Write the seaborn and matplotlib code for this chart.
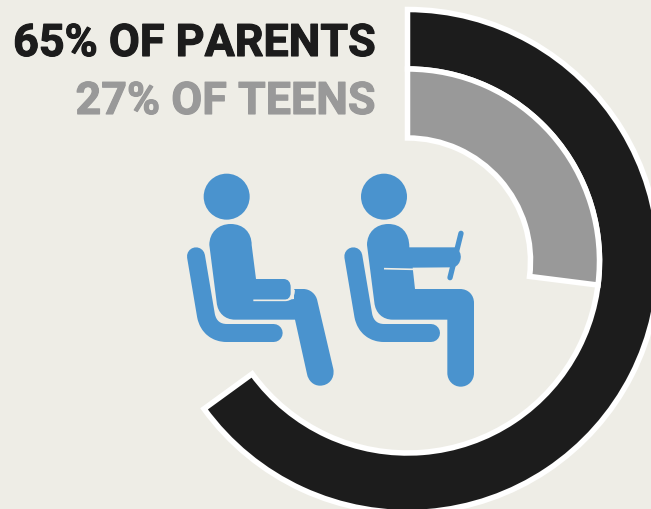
import matplotlib
matplotlib.use("Agg")
import matplotlib.pyplot as plt
import seaborn as sns
import matplotlib.patheffects as pe
from matplotlib.patches import Circle, PathPatch
from matplotlib.path import Path

# chart values
groups = ["PARENTS", "TEENS"]
shares = [65, 27]
group_colors = ["#1c1c1c", "#999999"]
ring_outer = [251.5, 192]
ring_width = [59.5, 69]

BG = "#eeede6"
BLUE = "#4a93ce"
PX = 0.72  # one pixel in points at dpi 100

sns.set_theme(style="white", rc={"figure.facecolor": BG, "axes.facecolor": BG})
plt.rcParams["font.family"] = ["Roboto", "Liberation Sans", "DejaVu Sans"]

fig = plt.figure(figsize=(6.51, 5.10), dpi=100)
ax = fig.add_axes([0, 0, 1, 1])


def to_px(x, y):
    # icon outlines were traced on a 3x crop starting at (170, 160)
    return (x / 3 + 170, 510 - (y / 3 + 160))


def build(parts):
    verts = []
    codes = []
    for part in parts:
        if len(part) == 2:
            verts.append(to_px(*part))
            codes.append(Path.MOVETO if not verts[:-1] else Path.LINETO)
        else:
            for i in range(0, 6, 2):
                verts.append(to_px(part[i], part[i + 1]))
                codes.append(Path.CURVE4)
    return verts, codes


def shape(parts):
    verts, codes = build(parts)
    verts.append(verts[0])
    codes.append(Path.CLOSEPOLY)
    return Path(verts, codes)


def stroke(parts, color, width, cap="round"):
    verts, codes = build(parts)
    ax.add_patch(PathPatch(Path(verts, codes), fill=False, edgecolor=color,
                           lw=width / 3 * PX, capstyle=cap, joinstyle="round"))


# rings
for share, color, radius, width in zip(shares, group_colors, ring_outer, ring_width):
    ax.pie([share / 100], colors=[color], normalize=False, startangle=90,
           counterclock=False, center=(407.5, 510 - 262), radius=radius,
           wedgeprops={"width": width, "edgecolor": "white", "linewidth": 5.5 * PX,
                       "joinstyle": "miter"})

ax.set_xlim(0, 651)
ax.set_ylim(0, 510)
ax.set_aspect("auto")
ax.set_axis_off()

# headline text
for label, share, color, base in zip(groups, shares, group_colors, [57, 115]):
    ax.text(375.5, 510 - base, f"{share}% OF {label}", color=color, fontsize=32.3,
            fontweight="bold", ha="right", va="baseline",
            path_effects=[pe.withStroke(linewidth=0.8, foreground=color)])

# sitting passenger
for dx in [0, 472]:
    ax.add_patch(Circle(to_px(170 + dx, 113), 23, color=BLUE, lw=0))
    stroke([(78 + dx, 292), (108 + dx, 470),
            (115 + dx, 505, 140 + dx, 522, 170 + dx, 522),
            (311 + dx, 522)], BLUE, 54)

ax.add_patch(PathPatch(shape([
    (118, 258),
    (118, 220, 145, 195, 182, 195),
    (220, 195, 245, 220, 245, 258),
    (258, 360), (340, 360),
    (355, 360, 362, 370, 362, 385),
    (362, 402),
    (362, 415, 352, 424, 340, 424),
    (372, 420), (372, 390), (400, 390),
    (420, 390, 438, 405, 442, 425),
    (490, 630),
    (495, 660, 475, 680, 450, 680),
    (430, 680, 415, 665, 411, 645),
    (375, 482), (195, 482),
    (165, 482, 143, 462, 140, 430),
]), color=BLUE, lw=0))
stroke([(250, 424), (345, 424), (362, 424, 373, 412, 372, 392)], BG, 5, cap="butt")

# driver
ax.add_patch(PathPatch(shape([
    (591, 258),
    (591, 220, 618, 195, 655, 195),
    (693, 195, 718, 220, 718, 265),
    (855, 265),
    (868, 272, 874, 285, 872, 298),
    (870, 312, 862, 322, 850, 325),
    (728, 326), (735, 390), (870, 390),
    (895, 390, 912, 408, 912, 432),
    (912, 642),
    (912, 665, 895, 683, 872, 683),
    (850, 683, 832, 665, 832, 642),
    (832, 482), (668, 482),
    (638, 482, 616, 462, 613, 430),
]), color=BLUE, lw=0))
stroke([(873, 223), (840, 356)], BLUE, 16)
stroke([(642, 329), (729, 331)], BG, 5, cap="butt")

fig.savefig("out.png", dpi=100, facecolor=BG)
